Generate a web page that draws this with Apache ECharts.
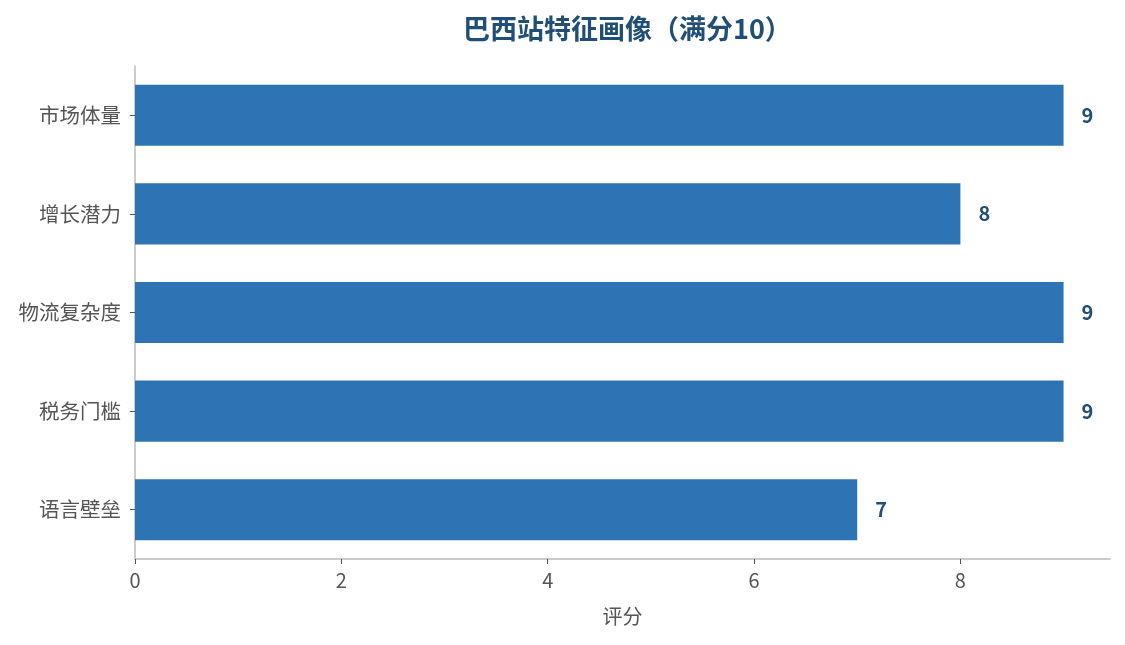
<!DOCTYPE html>
<html>
<head>
<meta charset="utf-8">
<script src="https://cdn.jsdelivr.net/npm/echarts@6/dist/echarts.min.js"></script>
<style>
  html, body { margin: 0; padding: 0; background: #fff; }
  #main { width: 1125px; height: 645px; }
</style>
</head>
<body>
<div id="main"></div>
<script>
const categories = ['市场体量', '增长潜力', '物流复杂度', '税务门槛', '语言壁垒'];
const scores = [9, 8, 9, 9, 7];
const xTicks = [0, 2, 4, 6, 8];

const font = '"Noto Sans CJK SC", "Noto Sans", sans-serif';

const chart = echarts.init(document.getElementById('main'));

chart.setOption({
  animation: false,
  textStyle: { fontFamily: font },
  title: {
    text: '巴西站特征画像（满分10）',
    left: 458,
    top: 10,
    textStyle: { fontSize: 27, fontWeight: 'bold', color: '#1F4E79', fontFamily: font }
  },
  grid: { left: 135, right: 15, top: 66, bottom: 86 },
  xAxis: {
    type: 'value',
    min: 0,
    max: 9.45,
    interval: 2,
    name: '评分',
    nameLocation: 'middle',
    nameGap: 47,
    nameTextStyle: { fontSize: 20, color: '#555', fontFamily: font },
    axisLine: { show: true, lineStyle: { color: '#bbb', width: 1.5 } },
    axisTick: { show: true, length: 5, lineStyle: { color: '#555' } },
    axisLabel: {
      fontSize: 20, color: '#555', margin: 11, showMaxLabel: false,
      formatter: v => xTicks.includes(v) ? String(v) : ''
    },
    splitLine: { show: false }
  },
  yAxis: {
    type: 'category',
    data: categories,
    inverse: true,
    axisLine: { show: true, lineStyle: { color: '#bbb', width: 1.5 } },
    axisTick: { show: true, alignWithLabel: true, length: 5, lineStyle: { color: '#555' } },
    axisLabel: { fontSize: 20.5, color: '#555', margin: 14 }
  },
  series: [{
    type: 'bar',
    data: scores,
    barWidth: '62%',
    itemStyle: { color: '#2E74B5' },
    label: {
      show: true,
      position: 'right',
      distance: 18,
      fontSize: 20,
      fontWeight: 'bold',
      color: '#1F4E79',
      fontFamily: font
    }
  }]
});
</script>
</body>
</html>
